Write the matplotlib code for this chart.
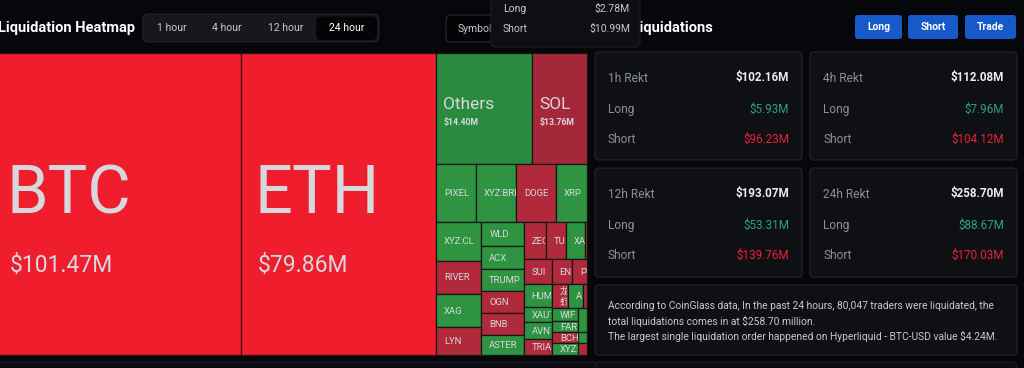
import matplotlib
matplotlib.use("Agg")
import matplotlib.pyplot as plt
from matplotlib.patches import Rectangle, FancyBboxPatch

# ---------------- data ----------------
title_left = "Liquidation Heatmap"
time_tabs = ["1 hour", "4 hour", "12 hour", "24 hour"]
active_tab = "24 hour"
title_right = "Total Liquidations"
header_buttons = ["Long", "Short", "Trade"]
symbol_button = "Symbol"

# treemap cells: size ($M) and dominant liquidated side
coins = ["BTC", "ETH", "Others", "SOL", "PIXEL", "XYZ:BRENTOIL", "DOGE", "XRP",
         "XYZ:CL", "RIVER", "XAG", "LYN",
         "WLD", "ACX", "TRUMP", "OGN", "BNB", "ASTER",
         "ZEC", "TURBO", "XAI", "_1",
         "SUI", "ENA", "PUMP",
         "HUMA", "XAUT", "AVNT", "TRIA",
         "龙虾", "ADA", "_2",
         "WIF", "FARTCOIN", "BCH", "XYZ:XYZ100",
         "_3", "_4", "_5"]
sizes = [101.47, 79.86, 14.40, 8.35, 3.14, 3.14, 3.07, 2.44,
         2.38, 2.07, 2.01, 1.71,
         1.42, 1.31, 1.25, 1.28, 1.25, 1.14,
         1.13, 1.03, 0.98, 0.10,
         0.95, 0.68, 0.51,
         0.87, 0.57, 0.65, 0.61,
         0.52, 0.49, 0.13,
         0.46, 0.39, 0.39, 0.42,
         0.29, 0.13, 0.15]
sides = ["Short", "Short", "Long", "Short", "Long", "Long", "Short", "Long",
         "Long", "Short", "Long", "Short",
         "Long", "Long", "Long", "Short", "Short", "Long",
         "Short", "Short", "Long", "Short",
         "Short", "Short", "Short",
         "Long", "Long", "Long", "Short",
         "Short", "Long", "Short",
         "Long", "Long", "Short", "Long",
         "Long", "Long", "Short"]
labelled_coins = ["BTC", "ETH", "Others", "SOL"]
labelled_totals = [101.47, 79.86, 14.40, 13.76]

# treemap nesting (h = side by side, v = stacked)
tree = ("h", ["BTC", "ETH",
        ("v", [("h", ["Others", "SOL"]),
               ("h", ["PIXEL", "XYZ:BRENTOIL", "DOGE", "XRP"]),
               ("h", [("v", ["XYZ:CL", "RIVER", "XAG", "LYN"]),
                      ("v", ["WLD", "ACX", "TRUMP", "OGN", "BNB", "ASTER"]),
                      ("v", [("h", ["ZEC", "TURBO", "XAI", "_1"]),
                             ("h", ["SUI", "ENA", "PUMP"]),
                             ("h", [("v", ["HUMA", "XAUT", "AVNT", "TRIA"]),
                                    ("v", [("h", ["龙虾", "ADA", "_2"]),
                                           ("h", [("v", ["WIF", "FARTCOIN", "BCH", "XYZ:XYZ100"]),
                                                  ("v", ["_3", "_4", "_5"])])])])])])])])

tooltip_labels = ["Long", "Short"]
tooltip_values = [2.78, 10.99]

periods = ["1h", "4h", "12h", "24h"]
rekt_total = [102.16, 112.08, 193.07, 258.70]
rekt_long = [5.93, 7.96, 53.31, 88.67]
rekt_short = [96.23, 104.12, 139.76, 170.03]

summary_lines = [
    "According to CoinGlass data, In the past 24 hours, 80,047 traders were liquidated, the",
    "total liquidations comes in at $258.70 million.",
    "The largest single liquidation order happened on Hyperliquid - BTC-USD value $4.24M.",
]

# ---------------- style ----------------
BG = "#06070a"
CARD = "#0f1014"
CARD_EDGE = "#24262c"
GREY = "#8e9099"
GREEN = "#2aa37a"
RED = "#e8233a"
BLUE = "#1659c9"
FONT = ["Roboto", "Noto Sans CJK SC", "DejaVu Sans"]
CJK = ["Noto Sans CJK SC", "DejaVu Sans"]
plt.rcParams["font.family"] = FONT

fig = plt.figure(figsize=(10.24, 3.68), dpi=100, facecolor=BG)
ax = fig.add_axes([0, 0, 1, 1])
ax.set_xlim(0, 1024)
ax.set_ylim(368, 0)
ax.axis("off")
ax.set_facecolor(BG)


def rbox(x0, y0, x1, y1, fc, ec="none", r=4, lw=0.8, z=1):
    p = FancyBboxPatch((x0, y0), x1 - x0, y1 - y0,
                       boxstyle=f"round,pad=0,rounding_size={r}",
                       fc=fc, ec=ec, lw=lw, zorder=z)
    ax.add_patch(p)
    return p


def clipper(x0, y0, x1, y1):
    return Rectangle((x0, y0), x1 - x0, y1 - y0, transform=ax.transData)


TIP = (491, -8, 640, 47)

# ---------------- header ----------------
ax.text(-2, 28, title_left, color="white", fontsize=10.5, fontweight="bold",
        va="center", ha="left", zorder=5)
rbox(143, 14, 379, 42, "#16181d", "#23252b", r=6)
tab_centers = [172, 227, 286, 347]
for t, cx in zip(time_tabs, tab_centers):
    if t == active_tab:
        rbox(316, 16.5, 377, 40, "#030405", "none", r=5, z=2)
    ax.text(cx, 28, t, color="white" if t == active_tab else "#c8c9cf",
            fontsize=7.5, ha="center", va="center", zorder=3)

rbox(446, 15, 540, 42, "#030405", "#2a2c31", r=5)
ts = ax.text(458, 28.5, symbol_button, color="#c8c9cf", fontsize=7.5, ha="left",
             va="center", zorder=3, clip_on=True)
ts.set_clip_path(clipper(440, 0, TIP[0], 50))
tt = ax.text(713, 28, title_right, color="white", fontsize=10.5, fontweight="bold",
             ha="right", va="center", zorder=3, clip_on=True)
tt.set_clip_path(clipper(TIP[2], 0, 760, 50))

btn_x = [(855, 902), (908, 958), (965, 1016)]
for lab, (bx0, bx1) in zip(header_buttons, btn_x):
    rbox(bx0, 15, bx1, 39, BLUE, "none", r=3, z=2)
    ax.text((bx0 + bx1) / 2, 27.5, lab, color="white", fontsize=7.5, fontweight="bold",
            ha="center", va="center", zorder=3)

# ---------------- treemap ----------------
size_of = dict(zip(coins, sizes))
side_of = dict(zip(coins, sides))
total_of = dict(zip(labelled_coins, labelled_totals))


def weight(n):
    return size_of[n] if isinstance(n, str) else sum(weight(c) for c in n[1])


cells = {}


def layout(n, x0, y0, x1, y1):
    if isinstance(n, str):
        cells[n] = (x0, y0, x1, y1)
        return
    d, kids = n
    tot = sum(weight(k) for k in kids)
    pos = x0 if d == "h" else y0
    full = (x1 - x0) if d == "h" else (y1 - y0)
    for k in kids:
        span = full * weight(k) / tot
        if d == "h":
            layout(k, pos, y0, pos + span, y1)
        else:
            layout(k, x0, pos, x1, pos + span)
        pos += span


layout(tree, -7, 53, 587, 355)

for name in coins:
    x0, y0, x1, y1 = cells[name]
    w, h = x1 - x0, y1 - y0
    big = size_of[name] > 50
    if side_of[name] == "Short":
        fc = "#f01d2d" if big else ("#a5283a" if name == "SOL" else "#b02a3b")
    else:
        fc = "#2a8a3d" if name == "Others" else "#2e9442"
    rect = Rectangle((x0, y0), w, h, fc=fc, ec="#161616" if not big else "#3a0c12",
                     lw=0.9, zorder=2)
    ax.add_patch(rect)
    if name.startswith("_"):
        continue
    lc = "#d7d8de"
    if w > 150:
        ax.text(x0 + 14, y0 + h * 0.53, name, color=lc, fontsize=48, ha="left",
                va="baseline", zorder=4)
        ax.text(x0 + 17, y0 + h * 0.725, f"${total_of[name]:.2f}M", color=lc,
                fontsize=16.5, ha="left", va="baseline", zorder=4)
    elif name in total_of:
        ax.text(x0 + 7.5, y0 + h * 0.5, name, color=lc, fontsize=12.5, ha="left",
                va="baseline", zorder=4)
        ax.text(x0 + 8, y0 + h * 0.645, f"${total_of[name]:.2f}M", color=lc,
                fontsize=6.3, fontweight="bold", ha="left", va="baseline", zorder=4)
    else:
        lab = name
        fam = FONT
        if any(ord(c) > 0x2e80 for c in name):
            lab = "\n".join(name)
            fam = CJK
        t = ax.text(x0 + 8, (y0 + y1) / 2 + 0.5, lab, color=lc, fontsize=6.8,
                    family=fam, ha="left", va="center", zorder=4, linespacing=1.25,
                    clip_on=True)
        t.set_clip_path(clipper(x0, y0, x1 - 0.5, y1))

# ---------------- tooltip (hover over SOL) ----------------
rbox(TIP[0], TIP[1], TIP[2], TIP[3], "#0e0f13", "#1d1f24", r=5, z=6)
for i, (lab, v) in enumerate(zip(tooltip_labels, tooltip_values)):
    yy = 9 + i * 19.5
    ax.text(503, yy, lab, color="#c8c9cf", fontsize=7.5, ha="left", va="center", zorder=7)
    ax.text(630, yy, f"${v:.2f}M", color="#c8c9cf", fontsize=7.5, ha="right", va="center", zorder=7)

# ---------------- cards ----------------
card_boxes = [(595, 52, 802, 160), (810, 52, 1017, 160),
              (595, 168, 802, 277), (810, 168, 1017, 277)]
for (cx0, cy0, cx1, cy1), p, tot, lo, sh in zip(card_boxes, periods, rekt_total, rekt_long, rekt_short):
    rbox(cx0, cy0, cx1, cy1, CARD, CARD_EDGE, r=4)
    lx, rx = cx0 + 13, cx1 - 13
    ys = [cy0 + 26, cy0 + 57, cy0 + 87.5]
    ax.text(lx, ys[0], f"{p} Rekt", color=GREY, fontsize=8.6, ha="left", va="center", zorder=3)
    ax.text(rx, ys[0], f"${tot:.2f}M", color="#eceef2", fontsize=8.4, fontweight="bold",
            ha="right", va="center", zorder=3)
    ax.text(lx, ys[1], "Long", color=GREY, fontsize=8.6, ha="left", va="center", zorder=3)
    ax.text(rx, ys[1], f"${lo:.2f}M", color=GREEN, fontsize=8.4, ha="right", va="center", zorder=3)
    ax.text(lx, ys[2], "Short", color=GREY, fontsize=8.6, ha="left", va="center", zorder=3)
    ax.text(rx, ys[2], f"${sh:.2f}M", color=RED, fontsize=8.4, ha="right", va="center", zorder=3)

rbox(595, 285, 1017, 355, CARD, CARD_EDGE, r=4)
for i, line in enumerate(summary_lines):
    ax.text(608, 306 + i * 15, line, color="#c9cad0", fontsize=7.4, ha="left",
            va="center", zorder=3)

# lower panels (cut off)
rbox(-6, 362, 598, 400, "#0c0d11", "#1e2025", r=5)
rbox(595, 362, 1017, 400, "#0c0d11", "#1e2025", r=5)

fig.savefig("out.png", dpi=100, facecolor=BG)
